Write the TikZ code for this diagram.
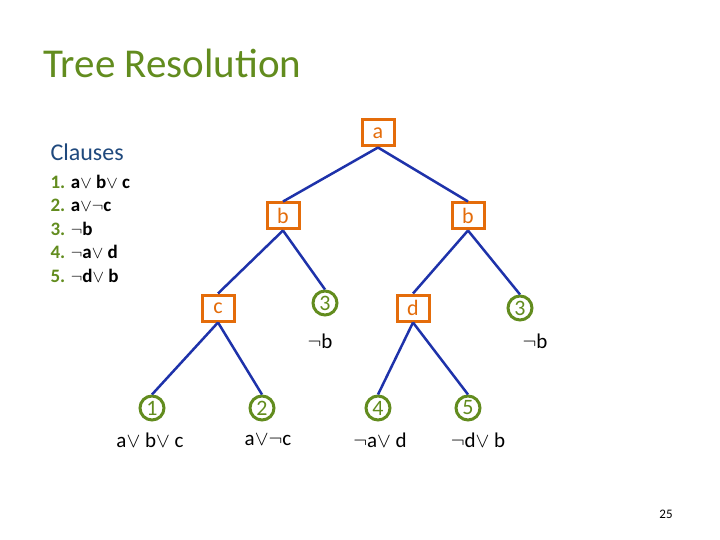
\documentclass[tikz,border=0pt]{standalone}
\usepackage{fontspec}
\setmainfont{Carlito}
\definecolor{titlegreen}{RGB}{98,140,30}
\definecolor{boxorange}{RGB}{228,108,10}
\definecolor{edgeblue}{RGB}{30,50,170}
\definecolor{clauseblue}{RGB}{31,73,125}
\begin{document}
\begin{tikzpicture}[x=1pt,y=-1pt,
  var/.style = {draw=boxorange,line width=3pt,text=boxorange,minimum width=32pt,minimum height=26pt,inner sep=0pt,font=\fontsize{22}{22}\selectfont,fill=white},
  leaf/.style = {draw=titlegreen,line width=3pt,text=titlegreen,circle,minimum size=24pt,inner sep=0pt,font=\fontsize{22}{22}\selectfont,fill=white},
  edge/.style = {edgeblue,line width=2.5pt},
  lbl/.style = {font=\fontsize{21}{21}\selectfont}]
  \useasboundingbox (0,0) rectangle (720,540);
  \node[anchor=west,text=titlegreen,font=\fontsize{41}{41}\selectfont] (title) at (40,63) {Tree Resolution};
  \node[anchor=west,text=clauseblue,font=\fontsize{24}{24}\selectfont] (clauses) at (47,152) {Clauses};
  \foreach \n/\cl [count=\i] in {1/{a$\vee$ b$\vee$ c},2/{a$\vee\neg$c},3/{$\neg$b},4/{$\neg$a$\vee$ d},5/{$\neg$d$\vee$ b}}
    \node[anchor=west,font=\fontsize{19}{19}\selectfont\bfseries] (cl\i) at (47,158+\i*23.5) {{\color{titlegreen}\n.} \cl};
  \node[var] (a) at (378,133) {a};
  \node[var] (bl) at (283,216) {b};
  \node[var] (br) at (468,216) {b};
  \node[var] (c) at (218,308) {c};
  \node[leaf] (t1) at (325,303) {3};
  \node[var] (d) at (413,308) {d};
  \node[leaf] (t2) at (520,308) {3};
  \node[leaf] (l1) at (152,408) {1};
  \node[leaf] (l2) at (262,408) {2};
  \node[leaf] (l4) at (378,408) {4};
  \node[leaf] (l5) at (468,408) {5};
  \draw[edge] (a.south) -- (bl.north);
  \draw[edge] (a.south) -- (br.north);
  \draw[edge] (bl.south) -- (c.north);
  \draw[edge] (bl.south) -- (t1.north);
  \draw[edge] (br.south) -- (d.north);
  \draw[edge] (br.south) -- (t2.north);
  \draw[edge] (c.south) -- (l1.north);
  \draw[edge] (c.south) -- (l2.north);
  \draw[edge] (d.south) -- (l4.north);
  \draw[edge] (d.south) -- (l5.north);
  \node[lbl] (n1) at (320,341) {$\neg$b};
  \node[lbl] (n2) at (535,341) {$\neg$b};
  \node[lbl] (s1) at (150,440) {a$\vee$ b$\vee$ c};
  \node[lbl] (s2) at (268,440) {a$\vee\neg$c};
  \node[lbl] (s4) at (380,440) {$\neg$a$\vee$ d};
  \node[lbl] (s5) at (478,440) {$\neg$d$\vee$ b};
  \node[font=\fontsize{13}{13}\selectfont] (page) at (666,514) {25};
\end{tikzpicture}
\end{document}
